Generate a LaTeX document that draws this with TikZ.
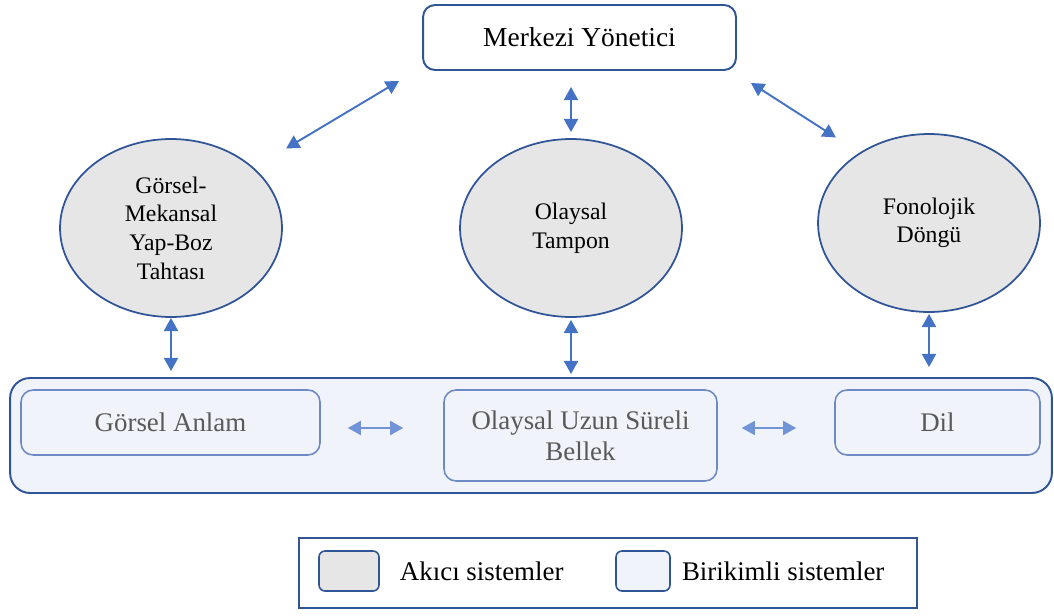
\documentclass[tikz,border=0pt]{standalone}
\usepackage{fontspec}
\setmainfont{Liberation Serif}
\usetikzlibrary{arrows.meta,shapes.geometric,positioning}
\definecolor{koyu}{HTML}{2F5597}
\definecolor{okmavi}{HTML}{4472C4}
\definecolor{acikok}{HTML}{7194D6}
\definecolor{gri}{HTML}{E7E6E6}
\definecolor{acik}{HTML}{F0F3F9}
\definecolor{kenar}{HTML}{6E8AC4}
\definecolor{yazi}{HTML}{595959}
\begin{document}
\begin{tikzpicture}[x=0.02cm,y=-0.02cm,
    yonetim/.style={draw=koyu,line width=1.1pt,rounded corners=0.24cm,fill=white,
      minimum width=6.26cm,minimum height=1.3cm,font=\fontsize{15.6}{18}\selectfont},
    akici/.style={ellipse,draw=koyu,line width=1pt,fill=gri,inner sep=0pt,
      minimum width=4.44cm,minimum height=3.56cm,align=center,
      font=\fontsize{13.5}{16.3}\selectfont},
    birikim/.style={draw=kenar,line width=0.9pt,rounded corners=0.24cm,fill=acik,
      align=center,text=yazi,font=\fontsize{15.3}{17.6}\selectfont},
    ok/.style={okmavi,line width=1.1pt,{Triangle[width=8pt,length=7.5pt]}-{Triangle[width=8pt,length=7.5pt]}},
    acikokstil/.style={acikok,line width=1.1pt,{Triangle[width=8pt,length=7.5pt]}-{Triangle[width=8pt,length=7.5pt]}},
    lejant/.style={draw=koyu,line width=0.9pt,rounded corners=0.12cm,
      minimum height=0.8cm}]
\useasboundingbox (0,0) rectangle (1054,615);

% ust kutu ve tamponlar
\node[yonetim] (yonetici) at (579.5,37.5) {Merkezi Yönetici};
\node[akici] (gorsel) at (171,228) {Görsel-\\Mekansal\\Yap-Boz\\Tahtası};
\node[akici] (tampon) at (571,228) {Olaysal\\Tampon};
\node[akici] (fonolojik) at (929,223) {Fonolojik\\Döngü};

% uzun sureli bellek
\node[draw=koyu,line width=1.1pt,rounded corners=0.4cm,fill=acik,
  minimum width=20.84cm,minimum height=2.3cm] (uzun) at (531,435.5) {};
\node[birikim,minimum width=5.98cm,minimum height=1.3cm] (anlam) at (170.5,422.5) {Görsel Anlam};
\node[birikim,minimum width=5.46cm,minimum height=1.82cm] (bellek) at (580.5,435.5) {Olaysal Uzun Süreli\\Bellek};
\node[birikim,minimum width=4.1cm,minimum height=1.3cm] (dil) at (937.5,422.5) {Dil};

% oklar
\draw[ok] ([shift={(-23,10)}]yonetici.south west) -- ([shift={(36,-16)}]gorsel.north east);
\draw[ok, shorten <=0.32cm, shorten >=0.12cm] (tampon.north |- yonetici.south) -- (tampon.north);
\draw[ok] ([shift={(14,12)}]yonetici.south east) -- ([shift={(-14,-22)}]fonolojik.north west);
\draw[ok, shorten >=0.12cm] (gorsel.south) -- (gorsel.south |- uzun.north);
\draw[ok, shorten <=0.04cm, shorten >=0.06cm] (tampon.south) -- (tampon.south |- uzun.north);
\draw[ok, shorten <=0.02cm, shorten >=0.2cm] (fonolojik.south) -- (fonolojik.south |- uzun.north);
\draw[acikokstil, shorten <=0.54cm, shorten >=0.8cm] ([yshift=-0.11cm]anlam.east) -- ([yshift=-0.11cm]anlam.east -| bellek.west);
\draw[acikokstil, shorten <=0.48cm, shorten >=0.76cm] ([yshift=-0.11cm]dil.west -| bellek.east) -- ([yshift=-0.11cm]dil.west);

% lejant
\node[draw=koyu,line width=1pt,minimum width=12.36cm,minimum height=1.4cm] (lejant) at (608,573) {};
\node[lejant,fill=gri,minimum width=1.2cm] (akicikutu) at (349,571) {};
\node[right=0.28cm of akicikutu,font=\fontsize{15.3}{18}\selectfont] (akicitext) {Akıcı sistemler};
\node[lejant,fill=acik,minimum width=1.08cm] (birikimkutu) at (643,571) {};
\node[right=0.1cm of birikimkutu,font=\fontsize{15.3}{18}\selectfont] (birikimtext) {Birikimli sistemler};
\end{tikzpicture}
\end{document}
